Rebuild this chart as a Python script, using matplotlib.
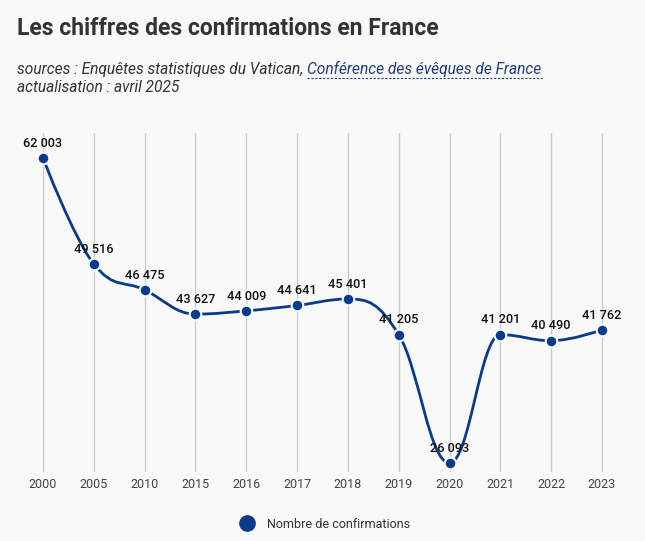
import numpy as np
import matplotlib
matplotlib.use('Agg')
import matplotlib.pyplot as plt
from matplotlib.path import Path
from matplotlib.patches import PathPatch
from matplotlib.lines import Line2D

# données
annees = ['2000', '2005', '2010', '2015', '2016', '2017', '2018', '2019', '2020', '2021', '2022', '2023']
confirmations = [62003, 49516, 46475, 43627, 44009, 44641, 45401, 41205, 26093, 41201, 40490, 41762]

titre = 'Les chiffres des confirmations en France'
source_txt = 'sources : Enquêtes statistiques du Vatican, '
source_lien = 'Conférence des évêques de France'
maj_txt = 'actualisation : avril 2025'
legende = 'Nombre de confirmations'

BLEU = '#0a3a8c'
FOND = '#f9f9f9'


def spline_path(xs, ys, smoothing=1.5):
    # courbe lissée façon highcharts (béziers cubiques)
    n = len(xs)
    left = [None] * n
    right = [None] * n
    for i in range(n):
        x, y = xs[i], ys[i]
        if i == 0 or i == n - 1:
            left[i] = (x, y)
            right[i] = (x, y)
            continue
        lx, ly = xs[i - 1], ys[i - 1]
        nx, ny = xs[i + 1], ys[i + 1]
        d = smoothing + 1
        lcx = (smoothing * x + lx) / d
        lcy = (smoothing * y + ly) / d
        rcx = (smoothing * x + nx) / d
        rcy = (smoothing * y + ny) / d
        if rcx != lcx:
            corr = (rcy - lcy) * (rcx - x) / (rcx - lcx) + y - rcy
            lcy += corr
            rcy += corr
        if lcy > ly and lcy > y:
            lcy = max(ly, y)
            rcy = 2 * y - lcy
        elif lcy < ly and lcy < y:
            lcy = min(ly, y)
            rcy = 2 * y - lcy
        if rcy > ny and rcy > y:
            rcy = max(ny, y)
            lcy = 2 * y - rcy
        elif rcy < ny and rcy < y:
            rcy = min(ny, y)
            lcy = 2 * y - rcy
        left[i] = (lcx, lcy)
        right[i] = (rcx, rcy)
    verts = [(xs[0], ys[0])]
    codes = [Path.MOVETO]
    for i in range(1, n):
        verts += [right[i - 1], left[i], (xs[i], ys[i])]
        codes += [Path.CURVE4] * 3
    return Path(verts, codes)


def fmt(v):
    return '{:,}'.format(v).replace(',', ' ')


plt.rcParams['font.family'] = ['Roboto', 'DejaVu Sans']

fig = plt.figure(figsize=(6.45, 5.41), dpi=100)
fig.patch.set_facecolor(FOND)
ax = fig.add_axes([0.0273, 0.127, 0.9454, 0.628])
ax.set_facecolor(FOND)

x = np.arange(len(annees))
ax.set_xlim(-0.5, len(annees) - 0.5)
ax.set_ylim(25000, 65000)

for xi in x:
    ax.axvline(xi, color='#cccccc', lw=1, zorder=0)

ax.add_patch(PathPatch(spline_path(list(x), confirmations), facecolor='none',
                       edgecolor=BLEU, lw=2, zorder=2))
ax.scatter(x, confirmations, s=70, color=BLEU, edgecolors=FOND, linewidths=1.5, zorder=3)

for xi, v in zip(x, confirmations):
    ax.annotate(fmt(v), (xi, v), xytext=(0, 6), textcoords='offset points',
                ha='center', va='bottom', fontsize=9.2, fontweight='medium', color='#111111', zorder=4)

ax.set_xticks(x)
ax.set_xticklabels(annees, fontsize=9, color='#444444')
ax.tick_params(axis='x', length=0, pad=4)
ax.set_yticks([])
for s in ax.spines.values():
    s.set_visible(False)

# titre et sous-titre
fig.text(0.027, 0.947, titre, fontsize=16.5, fontweight='bold', color='#333333', va='center')
t1 = fig.text(0.027, 0.864, source_txt, fontsize=11.2, style='italic', color='#333333', va='baseline')
fig.canvas.draw()
r = fig.canvas.get_renderer()
bb = t1.get_window_extent(r)
x_lien = bb.x1 / fig.bbox.width
t2 = fig.text(x_lien, 0.864, source_lien, fontsize=11.2, style='italic', color='#1f3c7a', va='baseline')
bb2 = t2.get_window_extent(r)
fig.add_artist(Line2D([bb2.x0 / fig.bbox.width, bb2.x1 / fig.bbox.width], [0.856, 0.856],
                      transform=fig.transFigure, color='#1f3c7a', lw=0.8, ls=(0, (2, 1.5))))
fig.text(0.027, 0.830, maj_txt, fontsize=11.2, style='italic', color='#333333', va='baseline')

# légende
fig.legend(handles=[Line2D([], [], marker='o', ls='none', color=BLEU, markersize=11)],
           labels=[legende], loc='center', bbox_to_anchor=(0.5, 0.031), frameon=False,
           fontsize=9, labelcolor='#333333', handletextpad=0.6)

fig.savefig('out.png', dpi=100, facecolor=FOND)
